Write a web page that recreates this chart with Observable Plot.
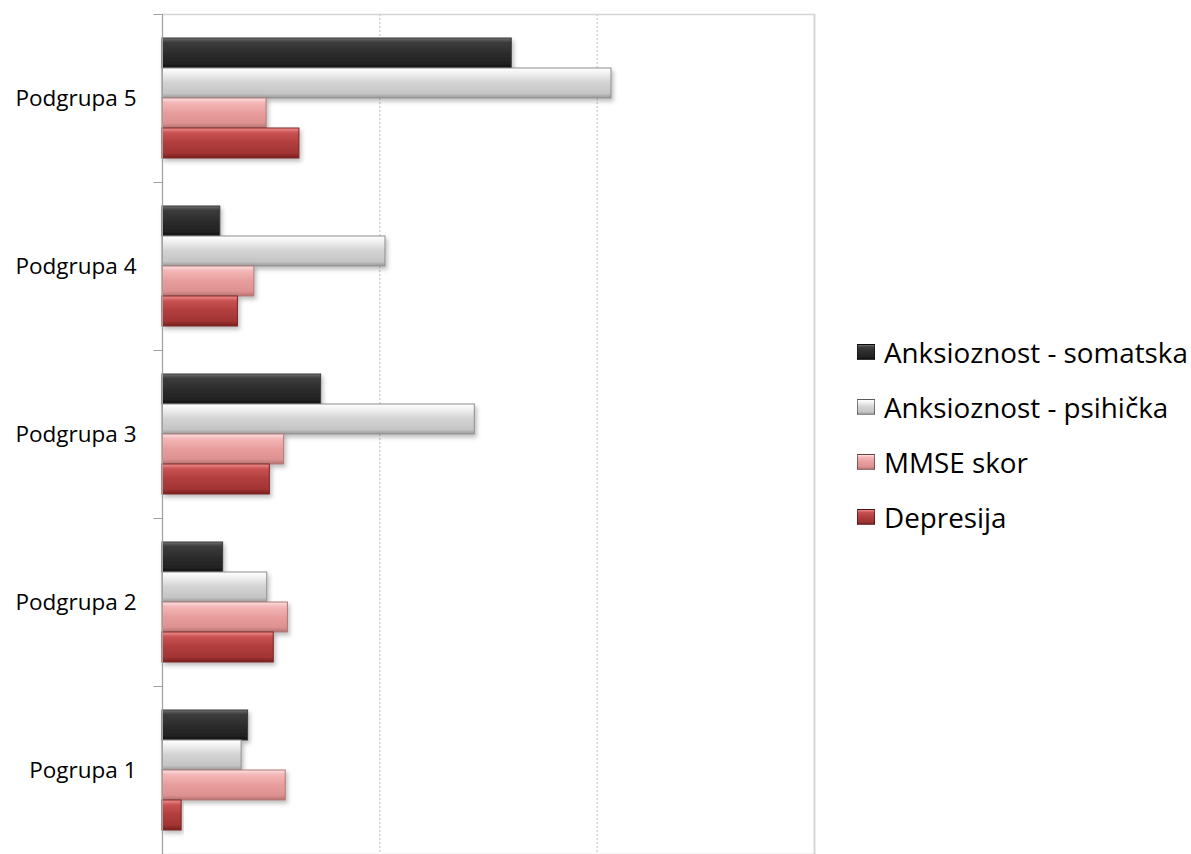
<!DOCTYPE html>
<html><head><meta charset="utf-8">
<script src="https://cdn.jsdelivr.net/npm/d3@7"></script>
<script src="https://cdn.jsdelivr.net/npm/@observablehq/plot@0.6"></script>
<style>
body{margin:0;background:#fff;}
#wrap{position:relative;width:1191px;height:854px;font-family:"Open Sans",sans-serif;overflow:hidden;}
#legend{position:absolute;left:857px;top:324px;}
.item{display:flex;align-items:center;height:55px;font-size:27.8px;color:#000;white-space:nowrap;}
.sw{width:18px;height:16px;margin-right:9px;box-sizing:border-box;border:1px solid rgba(0,0,0,0.45);}
</style></head><body><div id="wrap"><div id="legend"></div></div>
<script>
const groups = ["Podgrupa 5", "Podgrupa 4", "Podgrupa 3", "Podgrupa 2", "Pogrupa 1"];
const series = ["Anksioznost - somatska", "Anksioznost - psihička", "MMSE skor", "Depresija"];
const somatska  = [1.607, 0.266, 0.730, 0.279, 0.394];
const psihicka  = [2.066, 1.026, 1.437, 0.482, 0.364];
const mmse      = [0.479, 0.423, 0.560, 0.577, 0.567];
const depresija = [0.630, 0.347, 0.494, 0.512, 0.088];
const xTicks = [0, 1, 2, 3];

const seriesValues = [somatska, psihicka, mmse, depresija];
const data = groups.flatMap((g, i) => series.map((s, j) => ({group: g, series: s, value: seriesValues[j][i]})));

// styles
const gradStops = [
  [[0,"#707070"],[0.14,"#3c3c3c"],[0.5,"#2c2c2c"],[0.86,"#222"],[1,"#0e0e0e"]],
  [[0,"#ffffff"],[0.16,"#f2f2f2"],[0.5,"#d2d2d2"],[0.84,"#c6c6c6"],[1,"#9a9a9a"]],
  [[0,"#fde2e2"],[0.16,"#f3b6b6"],[0.5,"#e89d9d"],[0.84,"#df9191"],[1,"#b57272"]],
  [[0,"#f29090"],[0.16,"#c95252"],[0.5,"#b13d3d"],[0.84,"#a13434"],[1,"#772222"]]
];
const strokes = ["#3a3a3a", "#8e8e8e", "#b07676", "#7a2626"];
const gid = s => `url(#grad${series.indexOf(s)})`;

const tickSymbol = {draw(context) { context.moveTo(-9, 0); context.lineTo(0, 0); }};

const svg = Plot.plot({
  width: 1191,
  height: 854,
  marginLeft: 162,
  marginRight: 377,
  marginTop: 12,
  marginBottom: -1,
  style: {fontFamily: "'Open Sans', sans-serif", fontSize: "22.5px", color: "#000", background: "#fff"},
  x: {domain: [xTicks[0], xTicks[xTicks.length - 1]], axis: null},
  y: {domain: series, paddingInner: 0, paddingOuter: 0.73, axis: null},
  fy: {domain: groups, padding: 0},
  color: {type: "identity"},
  marks: [
    Plot.ruleX(xTicks.slice(1, -1), {stroke: "#bdbdbd", strokeDasharray: "2,2"}),
    Plot.ruleX(xTicks.slice(-1), {stroke: "#d4d4d4", strokeWidth: 1.5}),
    Plot.frame({facet: "super", stroke: "#d4d4d4", strokeWidth: 1.5}),
    Plot.barX(data, {x: "value", y: "series", fy: "group",
      fill: d => gid(d.series), stroke: d => strokes[series.indexOf(d.series)], strokeWidth: 1}),
    Plot.ruleX(xTicks.slice(0, 1), {stroke: "#a0a0a0"}),
    Plot.dot(groups, {fy: d => d, frameAnchor: "top-left", symbol: tickSymbol, fill: "none", stroke: "#a0a0a0", strokeWidth: 1}),
    Plot.axisFy({anchor: "left", label: null, tickSize: 0, tickPadding: 26, fontSize: 22.5})
  ]
});

const s = d3.select(svg);
const defs = s.insert("defs", ":first-child");
gradStops.forEach((stops, i) => {
  const lg = defs.append("linearGradient").attr("id", `grad${i}`).attr("x1", 0).attr("y1", 0).attr("x2", 0).attr("y2", 1);
  stops.forEach(([o, c]) => lg.append("stop").attr("offset", o).attr("stop-color", c));
});
const f = defs.append("filter").attr("id", "shadow").attr("x", "-5%").attr("y", "-20%").attr("width", "115%").attr("height", "160%");
f.append("feDropShadow").attr("dx", 2).attr("dy", 3).attr("stdDeviation", 2).attr("flood-color", "#000").attr("flood-opacity", 0.25);
s.selectAll('g[aria-label="bar"] rect').attr("filter", "url(#shadow)");

document.getElementById("wrap").prepend(svg);

const legend = d3.select("#legend");
series.forEach((name, i) => {
  const st = gradStops[i].map(([o, c]) => `${c} ${o * 100}%`).join(",");
  const it = legend.append("div").attr("class", "item");
  it.append("div").attr("class", "sw").style("background", `linear-gradient(to bottom, ${st})`);
  it.append("span").text(name);
});
</script>
</body></html>
